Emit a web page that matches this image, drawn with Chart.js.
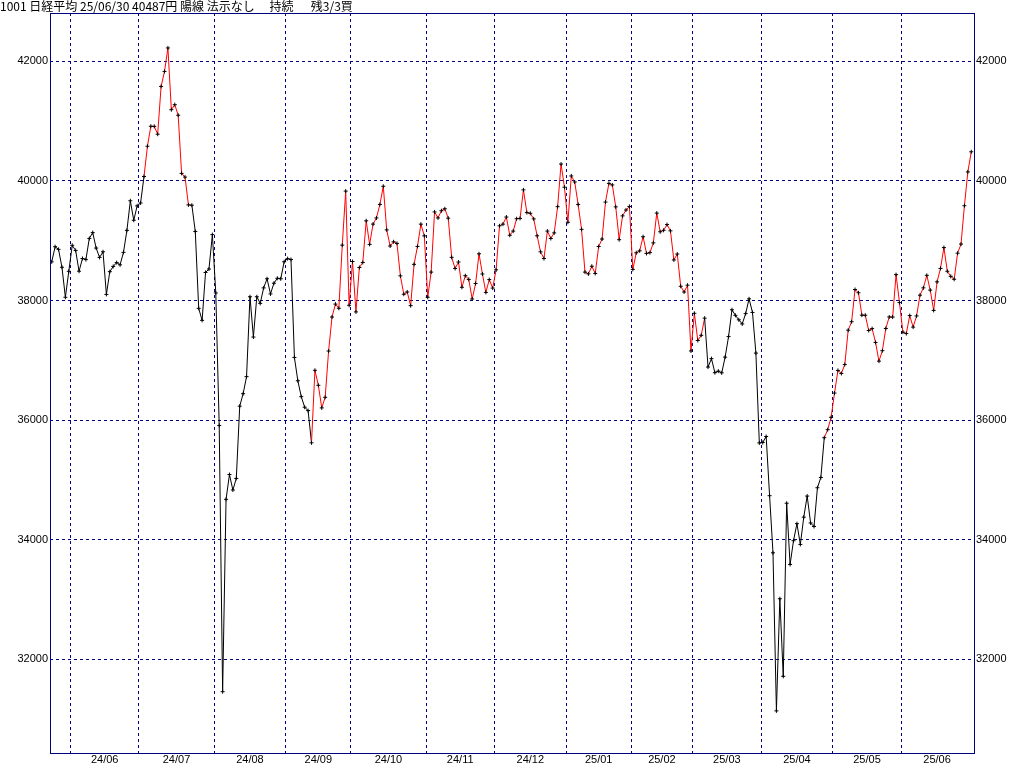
<!DOCTYPE html>
<html>
<head>
<meta charset="utf-8">
<script src="https://cdn.jsdelivr.net/npm/chart.js@4/dist/chart.umd.min.js"></script>
<style>
  html, body { margin: 0; padding: 0; background: #fff; }
  #wrap { width: 1024px; height: 767px; }
</style>
</head>
<body>
<div id="wrap"><canvas id="nikkei"></canvas></div>
<script>
const title = "1001 日経平均 25/06/30 40487円 陽線 法示なし　 持続　  残3/3買";

const monthLabels = ["24/06", "24/07", "24/08", "24/09", "24/10", "24/11", "24/12",
  "25/01", "25/02", "25/03", "25/04", "25/05", "25/06"];
// index of the first trading day of each month in closes
const monthStarts = [6, 26, 48, 69, 88, 110, 130, 151, 170, 188, 208, 229, 249];

// daily closes, 2024/05/24 .. 2025/06/30
const closes = [
  // 24/05
  38646, 38900, 38855, 38556, 38054, 38488,
  // 24/06
  38923, 38837, 38490, 38703, 38684, 39038, 39135, 38877, 38720, 38815,
  38102, 38482, 38570, 38634, 38596, 38805, 39173, 39668, 39342, 39583,
  // 24/07
  39631, 40074, 40580, 40914, 40912, 40781, 41580, 41831, 42224, 41191,
  41275, 41098, 40126, 40064, 39599, 39594, 39155, 37869, 37668, 38469, 38526, 39102,
  // 24/08
  38126, 35910, 31458, 34675, 35090, 34831, 35025, 36233, 36442, 36727,
  38063, 37389, 38063, 37952, 38211, 38364, 38110, 38289, 38372, 38363, 38648,
  // 24/09
  38700, 38686, 37048, 36658, 36392, 36216, 36159, 35620, 36833, 36582,
  36204, 36381, 37155, 37724, 37940, 37870, 38926, 39830, 37920,
  // 24/10
  38652, 37809, 38552, 38636, 39333, 38938, 39278, 39381, 39606, 39911,
  39181, 38911, 38982, 38955, 38412, 38105, 38143, 37914, 38605, 38904, 39277, 39081,
  // 24/11
  38054, 38475, 39481, 39381, 39501, 39534, 39377, 38722, 38536, 38643,
  38221, 38415, 38353, 38026, 38284, 38781, 38443, 38135, 38350, 38208,
  // 24/12
  38513, 39249, 39277, 39396, 39091, 39161, 39368, 39373, 39850, 39470,
  39458, 39365, 39082, 38814, 38702, 39161, 39037, 39131, 39569, 40282, 39895,
  // 25/01
  39308, 40083, 39982, 39606, 39190, 38475, 38445, 38573, 38452, 38903,
  39028, 39646, 39959, 39932, 39566, 39017, 39415, 39514, 39573,
  // 25/02
  38520, 38798, 38831, 39066, 38787, 38801, 38964, 39462, 39149, 39174,
  39270, 39165, 38678, 38777, 38238, 38142, 38256, 37156,
  // 25/03
  37786, 37331, 37418, 37705, 36887, 37028, 36793, 36819, 36790, 37053,
  37397, 37845, 37752, 37677, 37608, 37781, 38028, 37800, 37121, 35618,
  // 25/04
  35625, 35726, 34736, 33781, 31137, 33013, 31715, 34610, 33586, 33983,
  34268, 33921, 34377, 34730, 34280, 34221, 34869, 35040, 35706, 35840, 36046,
  // 25/05
  36452, 36831, 36780, 36929, 37504, 37645, 38184, 38129, 37755, 37754,
  37498, 37530, 37299, 36986, 37161, 37532, 37725, 37723, 38433, 37965,
  // 25/06
  37471, 37447, 37748, 37555, 37742, 38089, 38212, 38421, 38174, 37835,
  38312, 38537, 38885, 38489, 38404, 38355, 38791, 38943, 39585, 40151, 40487
];

// buy-signal periods (first and last index), drawn in red
const buyRuns = [[27, 41], [76, 191], [226, 269]];

const priceTicks = [32000, 34000, 36000, 38000, 40000, 42000];

const NAVY = "#000080";
const tickFont = { family: "'Liberation Sans', Arial, sans-serif", size: 11 };
const xMin = -0.5, xMax = 269.8;
const yMin = 30433, yMax = 42808;

const inBuy = (a, b) => buyRuns.some(([s, e]) => a >= s && b <= e);

// label sits in the middle of each month
const labelPos = monthStarts.map((s, i) => {
  const next = i + 1 < monthStarts.length ? monthStarts[i + 1] : closes.length;
  return s + (next - 1 - s) / 2;
});

const frame = {
  id: "frame",
  afterDraw(chart) {
    const { ctx, chartArea: a } = chart;
    ctx.save();
    ctx.strokeStyle = NAVY;
    ctx.lineWidth = 1;
    ctx.strokeRect(a.left + 0.5, a.top + 0.5, a.right - a.left, a.bottom - a.top);
    ctx.restore();
  }
};

new Chart("nikkei", {
  type: "line",
  data: {
    datasets: [{
      data: closes.map((v, i) => ({ x: i, y: v })),
      borderColor: "#000",
      borderWidth: 1,
      tension: 0,
      pointStyle: "cross",
      pointRadius: 2,
      pointBorderColor: "#000",
      pointBorderWidth: 1,
      segment: {
        borderColor: c => inBuy(c.p0DataIndex, c.p1DataIndex) ? "#ff0000" : "#000"
      }
    }]
  },
  options: {
    responsive: true,
    maintainAspectRatio: false,
    animation: false,
    layout: { padding: 0 },
    plugins: {
      legend: { display: false },
      tooltip: { enabled: false },
      title: {
        display: true,
        text: title,
        align: "start",
        color: "#000",
        padding: 0,
        font: { family: "'Noto Sans CJK JP', sans-serif", size: 12, weight: "normal", lineHeight: 13 / 12 }
      }
    },
    scales: {
      x: {
        type: "linear",
        position: "bottom",
        min: xMin,
        max: xMax,
        afterBuildTicks: s => { s.ticks = labelPos.map(v => ({ value: v })); },
        afterFit: s => { s.height = 14; },
        ticks: {
          autoSkip: false,
          maxRotation: 0,
          padding: 0,
          color: "#000",
          font: tickFont,
          callback: (v, i) => monthLabels[i]
        },
        grid: { display: false, drawTicks: false },
        border: { display: false }
      },
      months: {
        type: "linear",
        position: "top",
        min: xMin,
        max: xMax,
        afterBuildTicks: s => { s.ticks = monthStarts.map(v => ({ value: v - 0.5 })); },
        afterFit: s => { s.height = 0; },
        ticks: { display: false },
        grid: { color: NAVY, lineWidth: 1, drawTicks: false },
        border: { display: false, dash: [3, 3] }
      },
      y: {
        position: "left",
        min: yMin,
        max: yMax,
        afterBuildTicks: s => { s.ticks = priceTicks.map(v => ({ value: v })); },
        afterFit: s => { s.width = 50; },
        ticks: { padding: 2, color: "#000", font: tickFont, callback: v => String(v) },
        grid: { color: NAVY, lineWidth: 1, drawTicks: false },
        border: { display: false, dash: [3, 3] }
      },
      y2: {
        position: "right",
        min: yMin,
        max: yMax,
        afterBuildTicks: s => { s.ticks = priceTicks.map(v => ({ value: v })); },
        afterFit: s => { s.width = 50; },
        ticks: { padding: 2, color: "#000", font: tickFont, callback: v => String(v) },
        grid: { display: false, drawTicks: false },
        border: { display: false }
      }
    }
  },
  plugins: [frame]
});
</script>
</body>
</html>
